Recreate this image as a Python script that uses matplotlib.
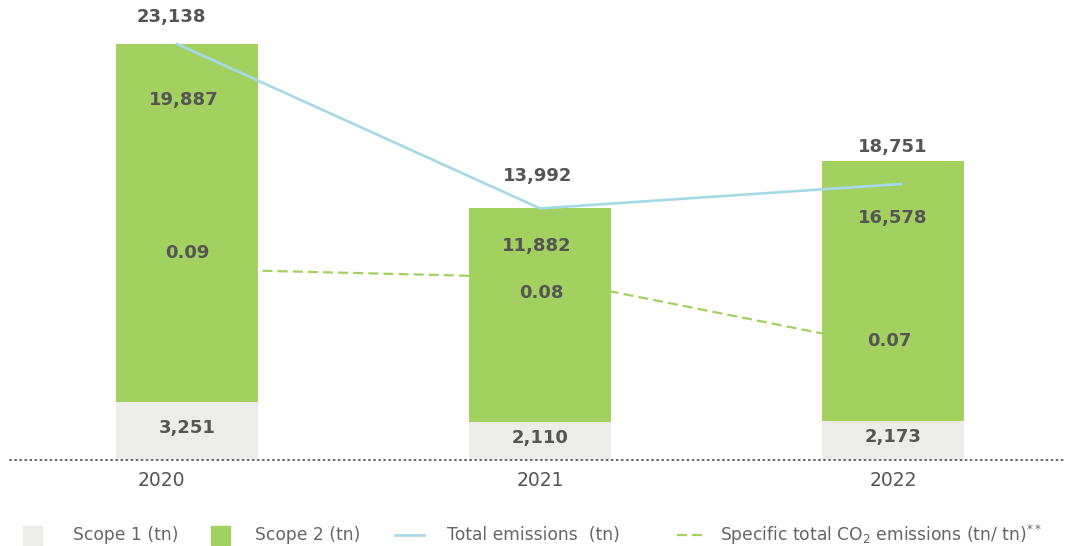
import matplotlib.pyplot as plt
from matplotlib.lines import Line2D
from matplotlib.patches import Rectangle

# values as drawn in the source chart (2022 bar / total point sit lower than their labels)
years = ['2020', '2021', '2022']
scope1 = [3251, 2110, 2173]
scope2 = [19887, 11882, 14460]
total = [23138, 13992, 15350]
specific = [0.090, 0.086, 0.053]

# printed labels
total_lbl = ['23,138', '13,992', '18,751']
scope1_lbl = ['3,251', '2,110', '2,173']
scope2_lbl = ['19,887', '11,882', '16,578']
specific_lbl = ['0.09', '0.08', '0.07']

gray = '#ececeb'
green = '#a2d160'
blue = '#a6d9e7'
txt = '#555555'

W, H = 1065, 546
fig = plt.figure(figsize=(W / 100, H / 100), dpi=100)
ax = fig.add_axes([10 / W, 86 / H, 1055 / W, 450 / H])
ax2 = ax.twinx()
ax.set_zorder(2)
ax.patch.set_visible(False)
ax2.set_zorder(1)

x = range(len(years))
tops = [a + b for a, b in zip(scope1, scope2)]

ax.bar(x, scope1, width=0.4, color=gray, zorder=2)
ax.bar(x, scope2, width=0.4, bottom=scope1, color=green, zorder=2)
ax.plot([-0.028, 1, 2.023], total, color=blue, lw=1.9, zorder=3)
ax2.plot(x, specific, color=green, lw=1.6, ls=(0, (4.5, 2.3)))

ax.set_xlim(-0.5014, 2.487)
ax.set_ylim(0, 25028)
ax2.set_ylim(0, 0.212)

ax.axhline(0, color=txt, lw=1.3, ls=(0, (0.6, 2.2)), dash_capstyle='round', zorder=4, clip_on=False)

for a in (ax, ax2):
    for s in a.spines.values():
        s.set_visible(False)
    a.set_yticks([])

ax.set_xticks([(161 - 187) / 353, 1, 2], years)
ax.tick_params(axis='x', length=0, pad=8, labelsize=13.5, labelcolor=txt)

lab = dict(ha='center', va='center', fontsize=13, fontweight='bold', color=txt,
           textcoords='offset pixels', zorder=5)
tot_off = [(-16, 27), (-2, 32), (0, 14)]
s2_off = [(-3, -56), (-3, -38), (0, -57)]
sp_off = [(0, 16), (1, -16), (-4, 6)]
for i in x:
    ax.annotate(total_lbl[i], (i, tops[i]), xytext=tot_off[i], **lab)
    ax.annotate(scope2_lbl[i], (i, tops[i]), xytext=s2_off[i], **lab)
    ax.annotate(scope1_lbl[i], (i, scope1[i] / 2), xytext=(0, 3), **lab)
    ax.annotate(specific_lbl[i], (i, specific[i]), xycoords=ax2.transData, xytext=sp_off[i], **lab)

# legend, drawn in figure pixels
def fx(px):
    return px / W

def fy(py):
    return (H - py) / H

ly = 535
leg = dict(fontsize=12.3, color='#666666', va='center', ha='left')
fig.add_artist(Rectangle((fx(23), fy(545)), 19 / W, 19 / H, color=gray, transform=fig.transFigure))
fig.text(fx(73), fy(ly), 'Scope 1 (tn)', **leg)
fig.add_artist(Rectangle((fx(211), fy(545)), 19 / W, 19 / H, color=green, transform=fig.transFigure))
fig.text(fx(255), fy(ly), 'Scope 2 (tn)', **leg)
fig.add_artist(Line2D([fx(395), fx(424)], [fy(ly), fy(ly)], color=blue, lw=1.9, transform=fig.transFigure))
fig.text(fx(447), fy(ly), 'Total emissions  (tn)', **leg)
fig.add_artist(Line2D([fx(677), fx(702)], [fy(ly), fy(ly)], color=green, lw=1.6,
                      ls=(0, (4.5, 2.3)), transform=fig.transFigure))
fig.text(fx(720), fy(ly), r'Specific total CO$_2$ emissions (tn/ tn)$^{**}$', **leg)

fig.savefig('out.png', dpi=100)
